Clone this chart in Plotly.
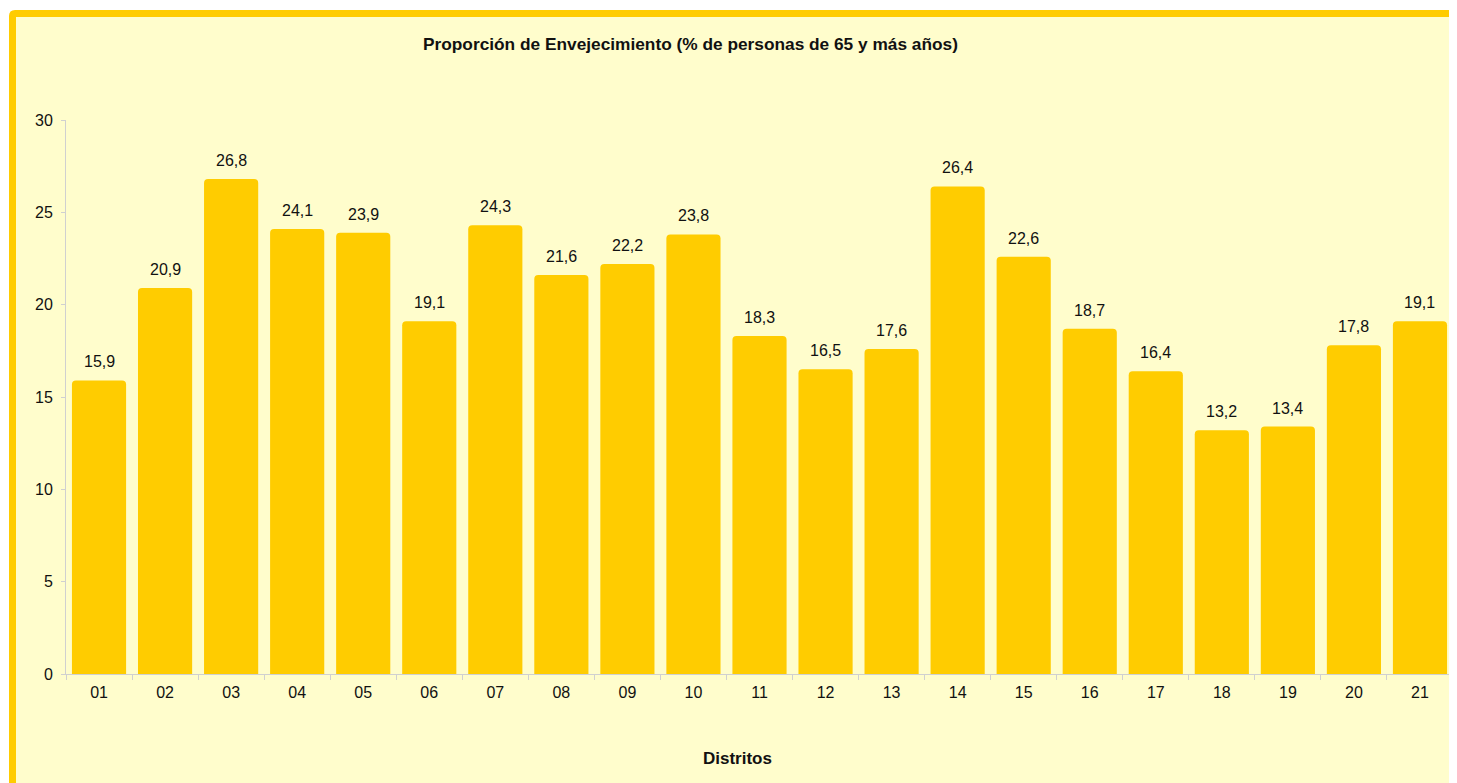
import plotly.graph_objects as go

distritos = ["01", "02", "03", "04", "05", "06", "07", "08", "09", "10", "11",
             "12", "13", "14", "15", "16", "17", "18", "19", "20", "21"]
valores = [15.9, 20.9, 26.8, 24.1, 23.9, 19.1, 24.3, 21.6, 22.2, 23.8, 18.3,
           16.5, 17.6, 26.4, 22.6, 18.7, 16.4, 13.2, 13.4, 17.8, 19.1]
y_ticks = [0, 5, 10, 15, 20, 25, 30]

titulo = "Proporción de Envejecimiento (% de personas de 65 y más años)"
titulo_x = "Distritos"

OFF = 8  # default page body margin
W, H = 1457 - OFF, 783 - OFF
L, R, T = 66 - OFF, 4, 120 - OFF
B = H - (674 - OFF)
PW, PH = W - L - R, H - T - B

FONT = "Liberation Sans, Arial, sans-serif"
GOLD = "#FFCC00"
BG = "#FFFDCC"
AXIS = "#D0D0D0"


def px(x):
    return (x - OFF - L) / PW


def py(y):
    return (H - B - (y - OFF)) / PH


idx = list(range(len(distritos)))

fig = go.Figure()
fig.add_trace(go.Bar(
    x=idx, y=valores,
    marker=dict(color=GOLD, line=dict(width=0), cornerradius=4),
    hovertext=distritos, hoverinfo="text+y",
))

annotations = [
    dict(x=i, y=v, xref="x", yref="y", text=f"{v:.1f}".replace(".", ","),
         showarrow=False, yanchor="bottom", yshift=8,
         font=dict(family=FONT, size=16, color="#111111"))
    for i, v in zip(idx, valores)
]
annotations.append(dict(
    x=px(690), y=py(44), xref="paper", yref="paper", text=f"<b>{titulo}</b>",
    showarrow=False, xanchor="center", yanchor="middle",
    font=dict(family=FONT, size=17.3, color="#111111")))
annotations.append(dict(
    x=px(737), y=py(758), xref="paper", yref="paper", text=f"<b>{titulo_x}</b>",
    showarrow=False, xanchor="center", yanchor="middle",
    font=dict(family=FONT, size=17, color="#111111")))

shapes = [
    dict(type="path", xref="paper", yref="paper", layer="below",
         path=(f"M {px(9)},{py(800)} L {px(9)},{py(16)} "
               f"Q {px(9)},{py(10)} {px(15)},{py(10)} "
               f"L {px(1500)},{py(10)} L {px(1500)},{py(800)} Z"),
         fillcolor=GOLD, line=dict(width=0)),
    dict(type="rect", xref="paper", yref="paper", layer="below",
         x0=px(16), x1=px(1500), y0=py(800), y1=py(17),
         fillcolor=BG, line=dict(width=0)),
]

fig.update_layout(
    width=W, height=H,
    margin=dict(l=L, r=R, t=T, b=B, pad=0),
    paper_bgcolor="white",
    plot_bgcolor="rgba(0,0,0,0)",
    bargap=0.18,
    showlegend=False,
    annotations=annotations,
    shapes=shapes,
    font=dict(family=FONT, size=16, color="#111111"),
    xaxis=dict(
        range=[-0.5, len(distritos) - 0.5],
        tickvals=idx, ticktext=distritos,
        showgrid=False, zeroline=False,
        showline=True, linecolor=AXIS, linewidth=1,
        ticks="", ticklabelstandoff=4,
        tickfont=dict(family=FONT, size=16, color="#111111"),
        minor=dict(tickvals=[i - 0.5 for i in idx] + [len(idx) - 0.5],
                   ticks="outside", ticklen=5, tickcolor=AXIS, showgrid=False),
    ),
    yaxis=dict(
        range=[0, 30], tickvals=y_ticks, showgrid=False, zeroline=False,
        showline=True, linecolor=AXIS, linewidth=1,
        ticks="outside", ticklen=4, tickcolor=AXIS, ticklabelstandoff=5,
        tickfont=dict(family=FONT, size=16, color="#111111"),
    ),
)

fig.write_html("out.html")
